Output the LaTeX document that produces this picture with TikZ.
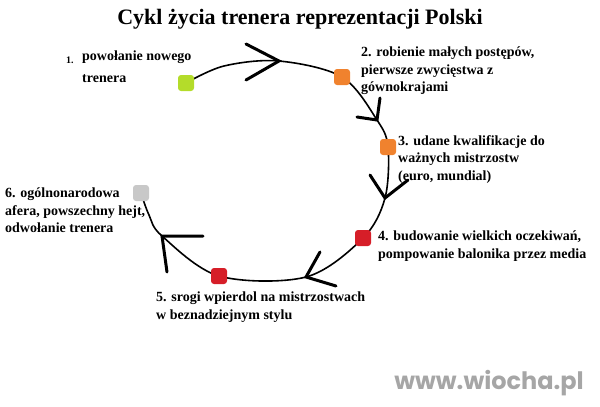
\documentclass[tikz,border=0pt]{standalone}
\usepackage{fontspec}
\setmainfont{Liberation Serif}
\newfontfamily\markfont{Poppins}
\usetikzlibrary{positioning}
\definecolor{stepgreen}{HTML}{B4DC2A}
\definecolor{steporange}{HTML}{F0822E}
\definecolor{stepred}{HTML}{D61E28}
\definecolor{stepgray}{HTML}{C8C8C8}

\begin{document}
\begin{tikzpicture}[
	x=1pt, y=-1pt,
	stage/.style={shape=rectangle, rounded corners=3pt, minimum size=16pt, inner sep=0pt},
	desc/.style={anchor=north west, align=left, inner sep=0pt, font=\fontsize{14}{17.5}\selectfont\bfseries},
	chevron/.style={line width=3pt, line cap=round},
]
\useasboundingbox (0,0) rectangle (600,407);
\node[font=\fontsize{22}{24}\selectfont\bfseries] (title) at (300,19) {Cykl życia trenera reprezentacji Polski};

% stages on the cycle
\coordinate (s1) at (186,83);
\coordinate (s2) at (342,77);
\coordinate (s3) at (388,147);
\coordinate (s4) at (363,238);
\coordinate (s5) at (219,276);
\coordinate (s6) at (141,193);

\coordinate (c1) at (224,66);
\coordinate (c2) at (279,61);
\coordinate (c3) at (377,120);
\coordinate (c4) at (385,198);
\coordinate (c5) at (306,277);
\coordinate (c7) at (162,236);
\coordinate (c8) at (149,215);
\draw[line width=1.6pt] plot[smooth, tension=0.55] coordinates {(s1) (c1) (c2) (s2) (c3) (s3) (c4) (s4) (c5) (s5) (c7) (c8) (s6)};
% squares above the line
\foreach \n/\c in {s1/stepgreen, s2/steporange, s3/steporange, s4/stepred, s5/stepred, s6/stepgray}
  \node[stage, fill=\c] (\n box) at (\n) {};

% arrow heads
\draw[chevron] (246,44) -- (c2) -- (246,80);
\draw[chevron] (380,98) -- (c3) -- (357,117);
\draw[chevron] (370,175) -- (c4) -- (408,180);
\draw[chevron] (320,252) -- (c5) -- (336,286);
\draw[chevron] (203,236) -- (c7) -- (167,272);

% labels
\node[anchor=north west, inner sep=0pt, font=\fontsize{10}{12}\selectfont\bfseries] (n1) at (66,57) {1.};
\node[desc, font=\fontsize{14}{22}\selectfont\bfseries] (t1) at (82,51) {powołanie nowego\\trenera};
\node[desc] (t2) at (361,47) {2. robienie małych postępów,\\ pierwsze zwycięstwa z\\gównokrajami};
\node[desc] (t3) at (398,135) {3. udane kwalifikacje do\\ważnych mistrzostw\\(euro, mundial)};
\node[desc] (t4) at (378,231) {4. budowanie wielkich oczekiwań,\\pompowanie balonika przez media};
\node[desc] (t5) at (156,292) {5. srogi wpierdol na mistrzostwach\\w beznadziejnym stylu};
\node[desc] (t6) at (5,188) {6. ogólnonarodowa\\afera, powszechny hejt,\\odwołanie trenera};

\node[anchor=east, inner sep=0pt, font=\markfont\fontsize{24}{26}\selectfont\bfseries, text=gray!70] (mark) at (584,383) {www.wiocha.pl};
\end{tikzpicture}
\end{document}
